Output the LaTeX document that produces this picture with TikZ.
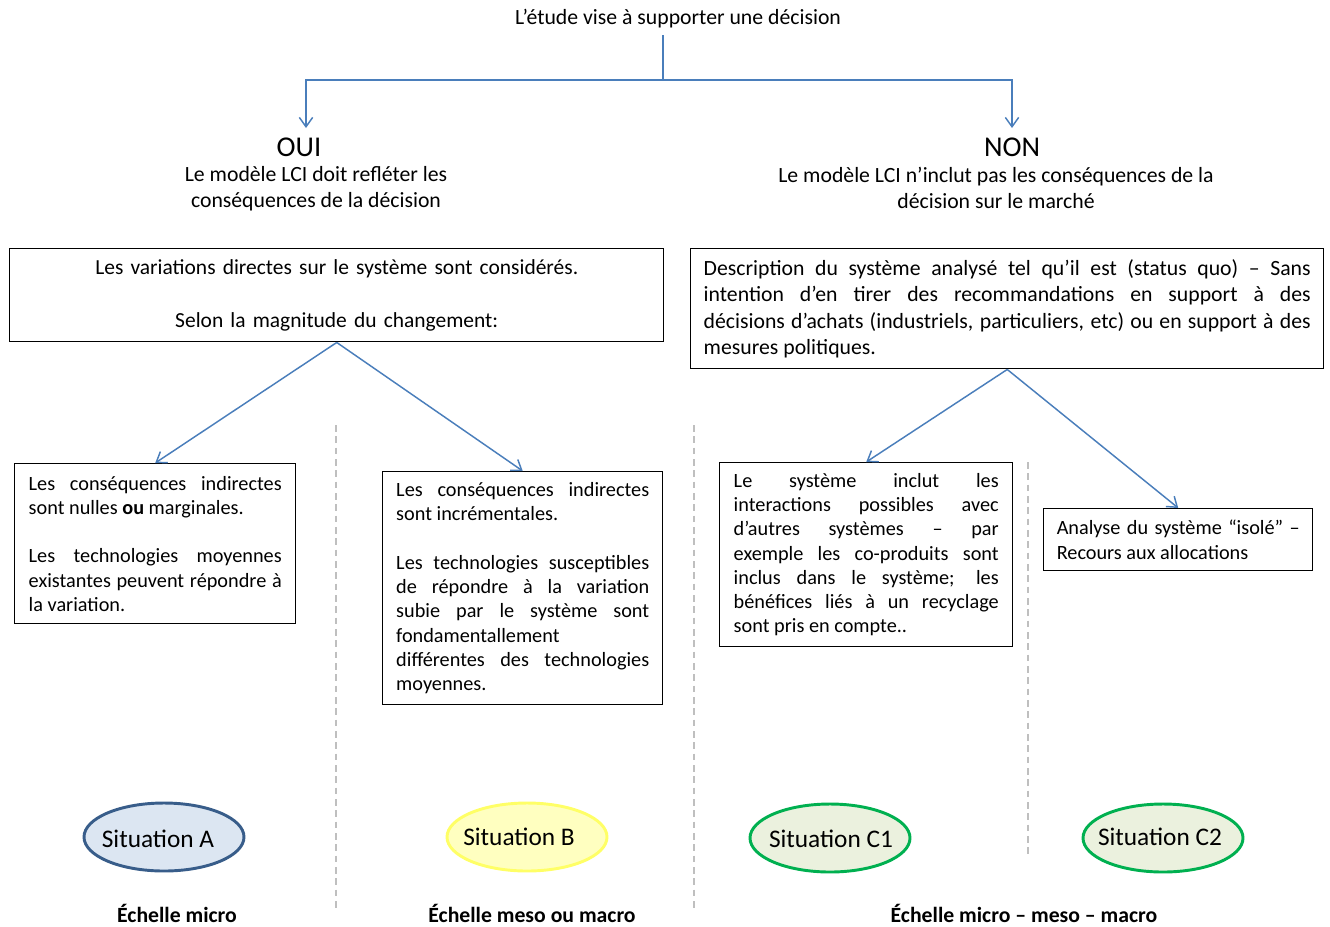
\documentclass[tikz,border=0pt]{standalone}
\usepackage{fontspec}
\setmainfont{Carlito}
\usetikzlibrary{arrows.meta,shapes.geometric}
\setlength{\parindent}{0pt}
\definecolor{arrblue}{HTML}{4A7EBB}
\definecolor{dashgray}{HTML}{BFBFBF}
\definecolor{aborder}{HTML}{385D8A}
\definecolor{afill}{HTML}{DCE6F2}
\definecolor{bborder}{HTML}{FFFF66}
\definecolor{bfill}{HTML}{FFFFC0}
\definecolor{cborder}{HTML}{00B050}
\definecolor{cfill}{HTML}{EBF1DE}
\begin{document}
\begin{tikzpicture}[x=0.75pt,y=-0.75pt,
  arr/.style={draw=arrblue, line width=1.1pt, -{Straight Barb[length=7pt,width=10pt]}},
  conn/.style={draw=arrblue, line width=1.1pt},
  box/.style={draw=black, line width=1.1pt, anchor=north west, inner ysep=0pt,
     font=\fontsize{15.2}{18.2}\selectfont, align=justify},
  head/.style={font=\fontsize{21.5}{24}\selectfont},
  sub/.style={font=\fontsize{16.3}{19.5}\selectfont, align=center},
  sep/.style={draw=dashgray, line width=1pt, dash pattern=on 5pt off 3.5pt},
  sit/.style={ellipse, line width=2.2pt, minimum width=120pt, minimum height=51pt},
  sittext/.style={font=\fontsize{19}{22}\selectfont},
  scale label/.style={font=\bfseries\fontsize{16.3}{19}\selectfont}
]
\useasboundingbox (0,0) rectangle (1330,926);

% title
\node[font=\fontsize{16.3}{19}\selectfont] (t) at (678,19) {L’étude vise à supporter une décision};
\coordinate (tb) at (663,35);
\coordinate (j) at (663,80);
\coordinate (ouiarr) at (306,128);
\coordinate (nonarr) at (1012,128);
\draw[conn] (tb) -- (j);
\draw[arr] (j) -| (ouiarr);
\draw[arr] (j) -| (nonarr);

\node[head] (oui) at (299,147) {OUI};
\node[sub] (ouisub) at (316,189) {Le modèle LCI doit refléter les\\conséquences de la décision};
\node[head] (non) at (1012,147) {NON};
\node[sub] (nonsub) at (996,188) {Le modèle LCI n’inclut pas les conséquences de la\\décision sur le marché};

% boxes
\node[box, font=\fontsize{16.1}{19.7}\selectfont, align=center, text width=472pt, inner xsep=9.25pt, minimum width=490.5pt, minimum height=69.75pt] (b1) at (9,248)
  {Les variations directes sur le système sont considérés.\\[20pt]Selon la magnitude du changement:};

\node[box, font=\fontsize{16.3}{19.7}\selectfont, text width=455.25pt, inner xsep=9.75pt, minimum width=474.75pt, minimum height=90pt] (b2) at (690,248)
  {Description du système analysé tel qu’il est (status quo) – Sans\linebreak intention d’en tirer des recommandations en support à des\linebreak décisions d’achats (industriels, particuliers, etc) ou en support à des\linebreak mesures politiques.};

\node[box, text width=189.75pt, inner xsep=10.5pt, minimum width=210.75pt, minimum height=120pt] (b3) at (14,463)
  {Les conséquences indirectes\linebreak sont nulles \textbf{ou} marginales.\par\vspace{\baselineskip}Les technologies moyennes\linebreak existantes peuvent répondre à\linebreak la variation.};

\node[box, text width=189.75pt, inner xsep=10.125pt, minimum width=210pt, minimum height=174.75pt] (b4) at (382,471)
  {Les conséquences indirectes\linebreak sont incrémentales.\par\vspace{\baselineskip}Les technologies susceptibles\linebreak de répondre à la variation\linebreak subie par le système sont\linebreak fondamentallement\\différentes des technologies\linebreak moyennes.};

\node[box, text width=198.75pt, inner xsep=10.5pt, minimum width=219.75pt, minimum height=138pt] (b5) at (719,462)
  {Le système inclut les\linebreak interactions possibles avec\linebreak d’autres systèmes – par\linebreak exemple les co-produits sont\linebreak inclus dans le système; les\linebreak bénéfices liés à un recyclage\linebreak sont pris en compte..};

\node[box, text width=182.25pt, inner xsep=9.75pt, minimum width=201.75pt, minimum height=46.5pt] (b6) at (1043,508)
  {Analyse du système “isolé” –\linebreak Recours aux allocations};

% connectors
\draw[arr] (b1.south) -- (b3.north);
\draw[arr] (b1.south) -- (b4.north);
\draw[arr] (b2.south) -- (b5.north);
\draw[arr] (b2.south) -- (b6.north);

% separators
\coordinate (s1a) at (336,425); \coordinate (s1b) at (336,912);
\coordinate (s2a) at (694,425); \coordinate (s2b) at (694,912);
\coordinate (s3a) at (1028,462); \coordinate (s3b) at (1028,858);
\draw[sep] (s1a) -- (s1b);
\draw[sep] (s2a) -- (s2b);
\draw[sep] (s3a) -- (s3b);

% situations
\node[sit, draw=aborder, fill=afill] (sa) at (164,837) {};
\node[sittext] (sat) at (158,839) {Situation A};
\node[sit, draw=bborder, fill=bfill] (sb) at (527,837) {};
\node[sittext] (sbt) at (519,837) {Situation B};
\node[sit, draw=cborder, fill=cfill] (sc1) at (830,838) {};
\node[sittext] (sc1t) at (831,839) {Situation C1};
\node[sit, draw=cborder, fill=cfill] (sc2) at (1163,838) {};
\node[sittext] (sc2t) at (1160,837) {Situation C2};

% scale labels
\node[scale label] (la) at (177,913) {Échelle micro};
\node[scale label] (lb) at (532,913) {Échelle meso ou macro};
\node[scale label] (lc) at (1024,913) {Échelle micro – meso – macro};
\end{tikzpicture}
\end{document}
